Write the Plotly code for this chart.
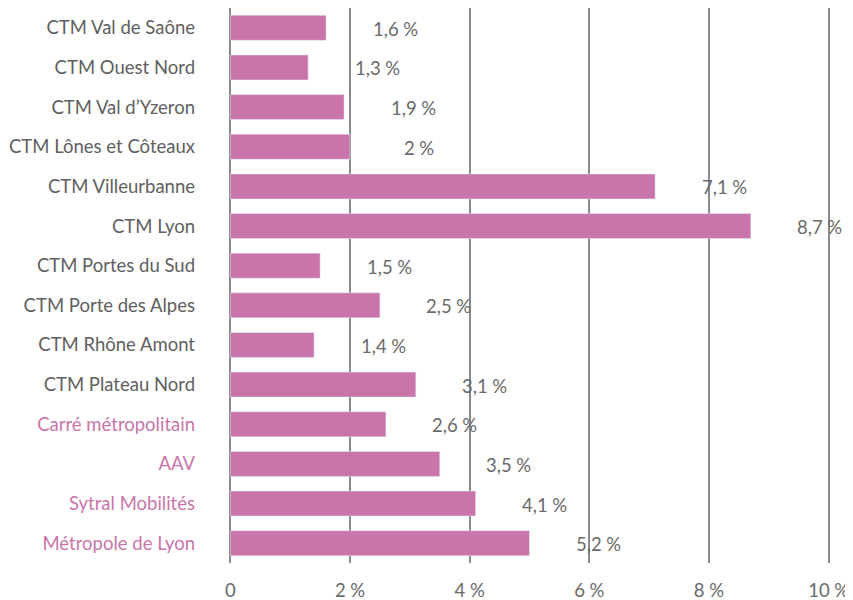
import plotly.graph_objects as go

categories = [
    "CTM Val de Saône", "CTM Ouest Nord", "CTM Val d’Yzeron", "CTM Lônes et Côteaux",
    "CTM Villeurbanne", "CTM Lyon", "CTM Portes du Sud", "CTM Porte des Alpes",
    "CTM Rhône Amont", "CTM Plateau Nord", "Carré métropolitain", "AAV",
    "Sytral Mobilités", "Métropole de Lyon",
]
values = [1.6, 1.3, 1.9, 2.0, 7.1, 8.7, 1.5, 2.5, 1.4, 3.1, 2.6, 3.5, 4.1, 5.0]
value_labels = ["1,6\u202f%", "1,3\u202f%", "1,9\u202f%", "2\u202f%", "7,1\u202f%", "8,7\u202f%",
                "1,5\u202f%", "2,5\u202f%", "1,4\u202f%", "3,1\u202f%", "2,6\u202f%", "3,5\u202f%",
                "4,1\u202f%", "5,2\u202f%"]
highlighted = {"Carré métropolitain", "AAV", "Sytral Mobilités", "Métropole de Lyon"}
x_ticks = [0, 2, 4, 6, 8, 10]
x_tick_labels = ["0", "2\u202f%", "4\u202f%", "6\u202f%", "8\u202f%", "10\u202f%"]

PINK = "#c975ab"
GREY = "#6a6a6a"
FONT = "Lato"

cat_text = [
    f"<span style='color:{PINK}'>{c}</span>" if c in highlighted else c
    for c in categories
]

fig = go.Figure()
fig.add_trace(go.Bar(
    x=values,
    y=categories,
    orientation="h",
    marker_color=PINK,
    hoverinfo="skip",
))

# value labels sit a little to the right of each bar end
for cat, val, lab in zip(categories, values, value_labels):
    fig.add_annotation(
        x=val, y=cat, text=lab, showarrow=False,
        xanchor="center", xshift=69, yshift=-1,
        font=dict(family=FONT, size=18.5, color=GREY),
    )

# page body has an 8px margin, so the figure is sized to fit the window
fig.update_layout(
    width=845, height=592,
    margin=dict(l=220, r=22, t=0, b=37),
    paper_bgcolor="white", plot_bgcolor="white",
    font=dict(family=FONT, size=18.5, color="#606060"),
    bargap=0.37,
    showlegend=False,
    xaxis=dict(
        range=[-0.04, 10.04],
        tickvals=x_ticks, ticktext=x_tick_labels,
        showgrid=True, gridcolor="#8a8a8a", gridwidth=1.5,
        zeroline=False, showline=False,
        automargin=False,
        ticklabelstandoff=14,
        tickfont=dict(family=FONT, size=18.5, color=GREY),
    ),
    yaxis=dict(
        categoryorder="array", categoryarray=categories,
        tickvals=categories, ticktext=cat_text,
        autorange="reversed",
        showgrid=False, zeroline=False, showline=False,
        automargin=False,
        ticklabelstandoff=32,
        tickfont=dict(family=FONT, size=18.5, color="#606060"),
    ),
)

fig.write_html("out.html")
